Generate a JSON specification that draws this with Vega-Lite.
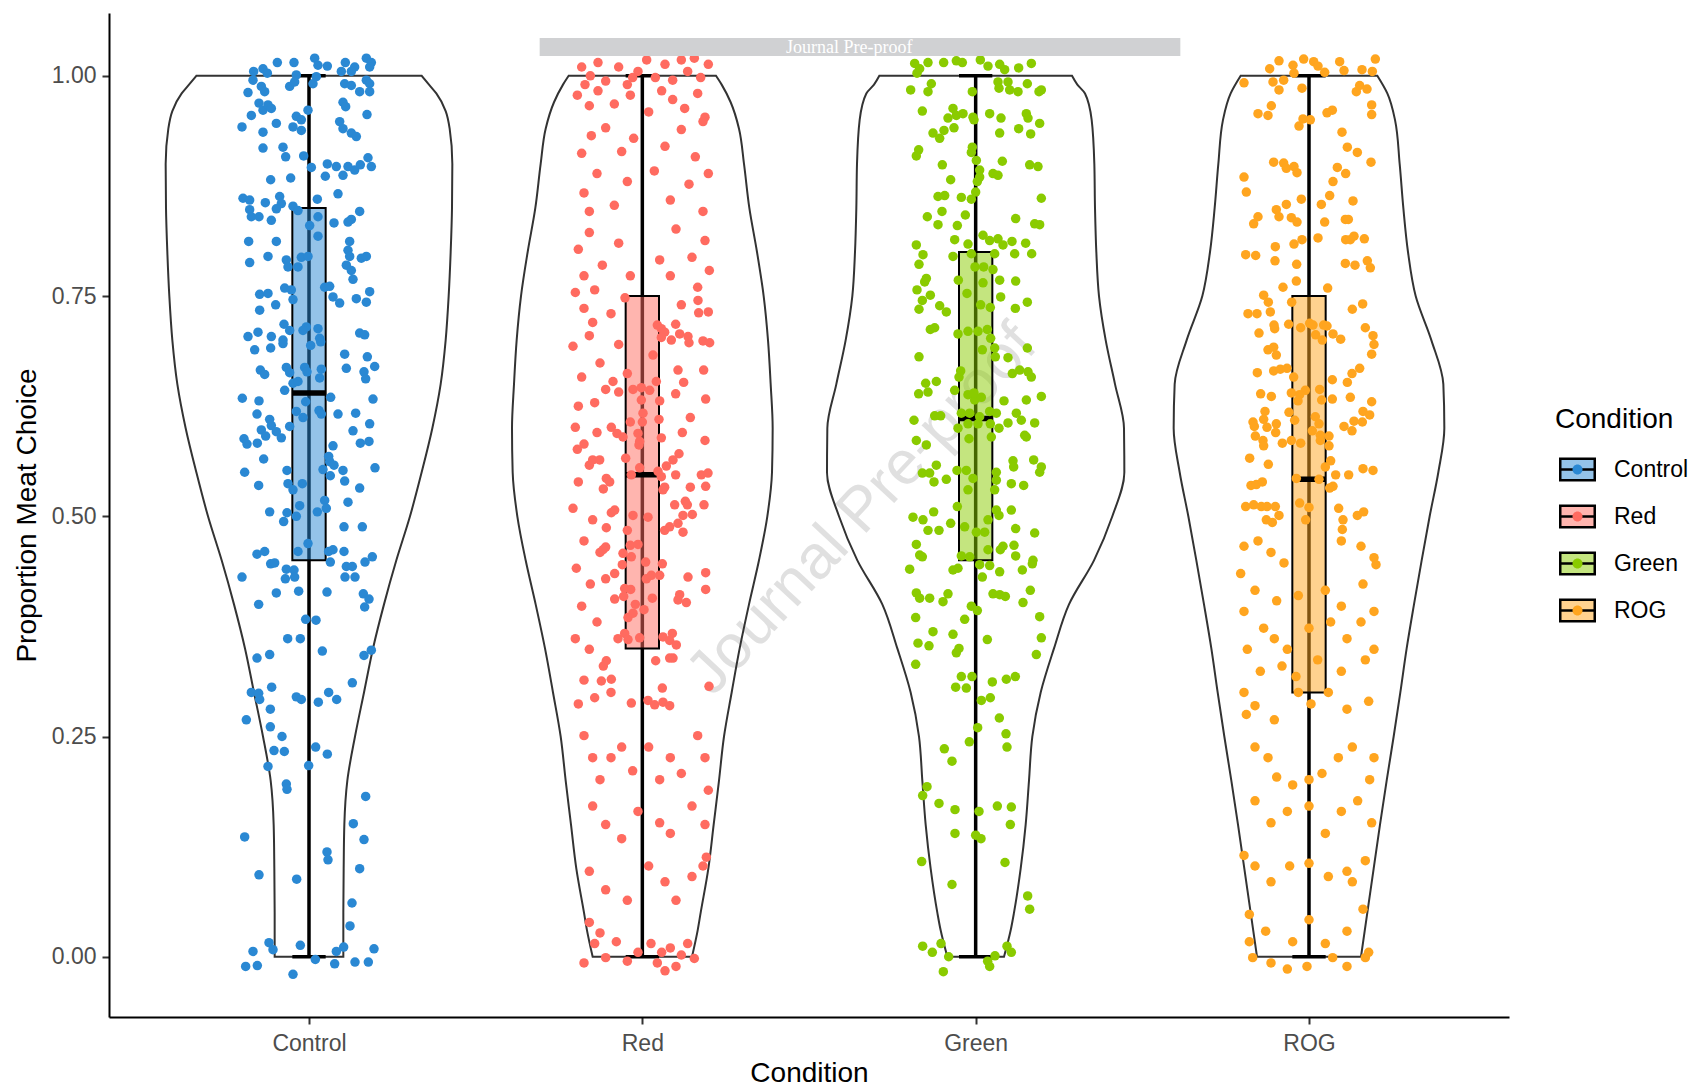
{
"$schema":"https://vega.github.io/schema/vega-lite/v6.json",
"width":1400,"height":1004,
"autosize":{"type":"none"},
"padding":{"left":109,"top":13,"right":188,"bottom":72},
"background":"white",
"config":{"view":{"stroke":null},"font":"Liberation Sans"},
"datasets":{
"stamp":[{"label":"Journal Pre-proof","x":2.659,"y":0.5076}],
"banner":[{"label":"Journal Pre-proof","x1":1.692,"x2":3.614,"y1":1.0225,"y2":1.0429,"xm":2.6205,"ym":1.032}],
"box":[
{"cond":"Control","lower":0,"q1":0.45,"median":0.64,"q3":0.85,"upper":1},
{"cond":"Red","lower":0,"q1":0.35,"median":0.547,"q3":0.75,"upper":1},
{"cond":"Green","lower":0,"q1":0.45,"median":0.611,"q3":0.80,"upper":1},
{"cond":"ROG","lower":0,"q1":0.30,"median":0.542,"q3":0.75,"upper":1}
],
"violin":[
{"cond":"Control","y":0,"w":0.103},{"cond":"Control","y":0.05,"w":0.103},{"cond":"Control","y":0.1,"w":0.104},{"cond":"Control","y":0.15,"w":0.106},{"cond":"Control","y":0.2,"w":0.115},{"cond":"Control","y":0.25,"w":0.138},{"cond":"Control","y":0.3,"w":0.165},{"cond":"Control","y":0.35,"w":0.192},{"cond":"Control","y":0.4,"w":0.225},{"cond":"Control","y":0.45,"w":0.262},{"cond":"Control","y":0.5,"w":0.303},{"cond":"Control","y":0.55,"w":0.338},{"cond":"Control","y":0.6,"w":0.370},{"cond":"Control","y":0.65,"w":0.395},{"cond":"Control","y":0.7,"w":0.410},{"cond":"Control","y":0.75,"w":0.419},{"cond":"Control","y":0.8,"w":0.425},{"cond":"Control","y":0.85,"w":0.429},{"cond":"Control","y":0.9,"w":0.430},{"cond":"Control","y":0.94,"w":0.422},{"cond":"Control","y":0.96,"w":0.410},{"cond":"Control","y":0.98,"w":0.382},{"cond":"Control","y":0.99,"w":0.360},{"cond":"Control","y":1,"w":0.338},
{"cond":"Red","y":0,"w":0.149},{"cond":"Red","y":0.03,"w":0.166},{"cond":"Red","y":0.05,"w":0.175},{"cond":"Red","y":0.1,"w":0.198},{"cond":"Red","y":0.15,"w":0.214},{"cond":"Red","y":0.2,"w":0.230},{"cond":"Red","y":0.25,"w":0.245},{"cond":"Red","y":0.3,"w":0.268},{"cond":"Red","y":0.35,"w":0.292},{"cond":"Red","y":0.4,"w":0.320},{"cond":"Red","y":0.45,"w":0.350},{"cond":"Red","y":0.5,"w":0.375},{"cond":"Red","y":0.55,"w":0.389},{"cond":"Red","y":0.6,"w":0.391},{"cond":"Red","y":0.65,"w":0.385},{"cond":"Red","y":0.7,"w":0.377},{"cond":"Red","y":0.75,"w":0.364},{"cond":"Red","y":0.8,"w":0.344},{"cond":"Red","y":0.85,"w":0.321},{"cond":"Red","y":0.9,"w":0.305},{"cond":"Red","y":0.94,"w":0.290},{"cond":"Red","y":0.97,"w":0.265},{"cond":"Red","y":0.99,"w":0.238},{"cond":"Red","y":1,"w":0.221},
{"cond":"Green","y":0,"w":0.085},{"cond":"Green","y":0.03,"w":0.105},{"cond":"Green","y":0.05,"w":0.115},{"cond":"Green","y":0.1,"w":0.135},{"cond":"Green","y":0.15,"w":0.150},{"cond":"Green","y":0.2,"w":0.160},{"cond":"Green","y":0.25,"w":0.170},{"cond":"Green","y":0.3,"w":0.195},{"cond":"Green","y":0.35,"w":0.235},{"cond":"Green","y":0.4,"w":0.280},{"cond":"Green","y":0.45,"w":0.355},{"cond":"Green","y":0.5,"w":0.410},{"cond":"Green","y":0.55,"w":0.446},{"cond":"Green","y":0.6,"w":0.445},{"cond":"Green","y":0.65,"w":0.418},{"cond":"Green","y":0.7,"w":0.390},{"cond":"Green","y":0.75,"w":0.370},{"cond":"Green","y":0.8,"w":0.362},{"cond":"Green","y":0.85,"w":0.358},{"cond":"Green","y":0.9,"w":0.356},{"cond":"Green","y":0.95,"w":0.348},{"cond":"Green","y":0.98,"w":0.328},{"cond":"Green","y":0.99,"w":0.305},{"cond":"Green","y":1,"w":0.289},
{"cond":"ROG","y":0,"w":0.156},{"cond":"ROG","y":0.05,"w":0.175},{"cond":"ROG","y":0.1,"w":0.194},{"cond":"ROG","y":0.15,"w":0.213},{"cond":"ROG","y":0.2,"w":0.233},{"cond":"ROG","y":0.25,"w":0.254},{"cond":"ROG","y":0.3,"w":0.274},{"cond":"ROG","y":0.35,"w":0.293},{"cond":"ROG","y":0.4,"w":0.315},{"cond":"ROG","y":0.45,"w":0.338},{"cond":"ROG","y":0.5,"w":0.362},{"cond":"ROG","y":0.55,"w":0.388},{"cond":"ROG","y":0.6,"w":0.406},{"cond":"ROG","y":0.65,"w":0.403},{"cond":"ROG","y":0.7,"w":0.367},{"cond":"ROG","y":0.75,"w":0.320},{"cond":"ROG","y":0.8,"w":0.297},{"cond":"ROG","y":0.85,"w":0.283},{"cond":"ROG","y":0.9,"w":0.272},{"cond":"ROG","y":0.95,"w":0.258},{"cond":"ROG","y":0.98,"w":0.235},{"cond":"ROG","y":1,"w":0.205}
],
"points":[
{"cond":"Control","dx":-0.095,"y":1.015},{"cond":"Control","dx":-0.045,"y":1.015},{"cond":"Control","dx":0.017,"y":1.020},{"cond":"Control","dx":0.027,"y":1.012},{"cond":"Control","dx":0.055,"y":1.011},{"cond":"Control","dx":0.109,"y":1.015},{"cond":"Control","dx":0.137,"y":1.010},{"cond":"Control","dx":0.172,"y":1.020},{"cond":"Control","dx":0.187,"y":1.015},{"cond":"Control","dx":0.182,"y":1.010},{"cond":"Control","dx":-0.166,"y":1.005},{"cond":"Control","dx":-0.138,"y":1.008},{"cond":"Control","dx":-0.125,"y":1.003},{"cond":"Control","dx":-0.038,"y":1.001},{"cond":"Control","dx":0.022,"y":0.999},{"cond":"Control","dx":0.097,"y":1.005},{"cond":"Control","dx":0.127,"y":1.005},{"cond":"Control","dx":-0.168,"y":0.995},{"cond":"Control","dx":-0.143,"y":0.988},{"cond":"Control","dx":-0.133,"y":0.982},{"cond":"Control","dx":-0.058,"y":0.988},{"cond":"Control","dx":-0.043,"y":0.993},{"cond":"Control","dx":0.012,"y":0.991},{"cond":"Control","dx":0.107,"y":0.991},{"cond":"Control","dx":0.127,"y":0.989},{"cond":"Control","dx":0.172,"y":0.995},{"cond":"Control","dx":0.182,"y":0.991},{"cond":"Control","dx":0.152,"y":0.982},{"cond":"Control","dx":0.182,"y":0.982},{"cond":"Control","dx":-0.183,"y":0.981},{"cond":"Control","dx":-0.150,"y":0.969},{"cond":"Control","dx":-0.138,"y":0.961},{"cond":"Control","dx":-0.123,"y":0.967},{"cond":"Control","dx":-0.113,"y":0.963},{"cond":"Control","dx":-0.173,"y":0.955},{"cond":"Control","dx":-0.038,"y":0.954},{"cond":"Control","dx":-0.003,"y":0.961},{"cond":"Control","dx":-0.023,"y":0.950},{"cond":"Control","dx":-0.048,"y":0.942},{"cond":"Control","dx":-0.023,"y":0.938},{"cond":"Control","dx":0.102,"y":0.970},{"cond":"Control","dx":0.110,"y":0.965},{"cond":"Control","dx":0.174,"y":0.956},{"cond":"Control","dx":0.092,"y":0.948},{"cond":"Control","dx":0.102,"y":0.940},{"cond":"Control","dx":0.127,"y":0.935},{"cond":"Control","dx":0.142,"y":0.931},{"cond":"Control","dx":-0.201,"y":0.942},{"cond":"Control","dx":-0.138,"y":0.936},{"cond":"Control","dx":-0.098,"y":0.946},{"cond":"Control","dx":-0.138,"y":0.918},{"cond":"Control","dx":-0.078,"y":0.919},{"cond":"Control","dx":-0.070,"y":0.908},{"cond":"Control","dx":-0.016,"y":0.909},{"cond":"Control","dx":0.007,"y":0.896},{"cond":"Control","dx":0.055,"y":0.900},{"cond":"Control","dx":0.082,"y":0.897},{"cond":"Control","dx":0.117,"y":0.897},{"cond":"Control","dx":0.137,"y":0.893},{"cond":"Control","dx":0.154,"y":0.899},{"cond":"Control","dx":0.177,"y":0.907},{"cond":"Control","dx":0.187,"y":0.897},{"cond":"Control","dx":0.049,"y":0.886},{"cond":"Control","dx":0.102,"y":0.887},{"cond":"Control","dx":-0.115,"y":0.882},{"cond":"Control","dx":-0.055,"y":0.884},{"cond":"Control","dx":-0.198,"y":0.861},{"cond":"Control","dx":-0.178,"y":0.859},{"cond":"Control","dx":-0.131,"y":0.856},{"cond":"Control","dx":-0.088,"y":0.863},{"cond":"Control","dx":-0.083,"y":0.855},{"cond":"Control","dx":-0.098,"y":0.849},{"cond":"Control","dx":-0.048,"y":0.852},{"cond":"Control","dx":-0.033,"y":0.847},{"cond":"Control","dx":0.025,"y":0.860},{"cond":"Control","dx":0.087,"y":0.866},{"cond":"Control","dx":-0.178,"y":0.848},{"cond":"Control","dx":-0.173,"y":0.840},{"cond":"Control","dx":-0.150,"y":0.840},{"cond":"Control","dx":-0.113,"y":0.836},{"cond":"Control","dx":0.002,"y":0.830},{"cond":"Control","dx":0.027,"y":0.840},{"cond":"Control","dx":0.027,"y":0.818},{"cond":"Control","dx":0.075,"y":0.833},{"cond":"Control","dx":0.117,"y":0.834},{"cond":"Control","dx":0.127,"y":0.837},{"cond":"Control","dx":0.152,"y":0.846},{"cond":"Control","dx":-0.181,"y":0.812},{"cond":"Control","dx":-0.098,"y":0.812},{"cond":"Control","dx":-0.178,"y":0.788},{"cond":"Control","dx":-0.123,"y":0.795},{"cond":"Control","dx":-0.068,"y":0.791},{"cond":"Control","dx":-0.063,"y":0.783},{"cond":"Control","dx":-0.033,"y":0.783},{"cond":"Control","dx":-0.023,"y":0.794},{"cond":"Control","dx":-0.003,"y":0.795},{"cond":"Control","dx":0.122,"y":0.812},{"cond":"Control","dx":0.117,"y":0.802},{"cond":"Control","dx":0.122,"y":0.795},{"cond":"Control","dx":0.112,"y":0.785},{"cond":"Control","dx":0.127,"y":0.779},{"cond":"Control","dx":0.157,"y":0.793},{"cond":"Control","dx":0.172,"y":0.795},{"cond":"Control","dx":0.132,"y":0.769},{"cond":"Control","dx":-0.148,"y":0.752},{"cond":"Control","dx":-0.123,"y":0.753},{"cond":"Control","dx":-0.073,"y":0.759},{"cond":"Control","dx":-0.053,"y":0.757},{"cond":"Control","dx":-0.048,"y":0.746},{"cond":"Control","dx":0.047,"y":0.760},{"cond":"Control","dx":0.062,"y":0.761},{"cond":"Control","dx":0.072,"y":0.749},{"cond":"Control","dx":0.092,"y":0.742},{"cond":"Control","dx":0.142,"y":0.747},{"cond":"Control","dx":0.172,"y":0.743},{"cond":"Control","dx":0.182,"y":0.755},{"cond":"Control","dx":-0.148,"y":0.734},{"cond":"Control","dx":-0.100,"y":0.740},{"cond":"Control","dx":-0.075,"y":0.718},{"cond":"Control","dx":-0.058,"y":0.711},{"cond":"Control","dx":-0.008,"y":0.715},{"cond":"Control","dx":0.027,"y":0.713},{"cond":"Control","dx":-0.018,"y":0.711},{"cond":"Control","dx":0.152,"y":0.708},{"cond":"Control","dx":0.167,"y":0.706},{"cond":"Control","dx":-0.183,"y":0.704},{"cond":"Control","dx":-0.153,"y":0.709},{"cond":"Control","dx":-0.113,"y":0.704},{"cond":"Control","dx":-0.078,"y":0.700},{"cond":"Control","dx":0.032,"y":0.702},
{"cond":"Control","dx":-0.163,"y":0.689},{"cond":"Control","dx":-0.115,"y":0.691},{"cond":"Control","dx":-0.078,"y":0.696},{"cond":"Control","dx":0.005,"y":0.694},{"cond":"Control","dx":0.035,"y":0.698},{"cond":"Control","dx":0.107,"y":0.684},{"cond":"Control","dx":0.175,"y":0.681},{"cond":"Control","dx":-0.146,"y":0.666},{"cond":"Control","dx":-0.133,"y":0.661},{"cond":"Control","dx":-0.068,"y":0.669},{"cond":"Control","dx":-0.058,"y":0.663},{"cond":"Control","dx":-0.013,"y":0.669},{"cond":"Control","dx":-0.006,"y":0.664},{"cond":"Control","dx":0.037,"y":0.667},{"cond":"Control","dx":0.032,"y":0.657},{"cond":"Control","dx":0.112,"y":0.668},{"cond":"Control","dx":0.165,"y":0.664},{"cond":"Control","dx":0.170,"y":0.656},{"cond":"Control","dx":0.197,"y":0.670},{"cond":"Control","dx":-0.073,"y":0.643},{"cond":"Control","dx":-0.048,"y":0.651},{"cond":"Control","dx":-0.033,"y":0.653},{"cond":"Control","dx":-0.200,"y":0.634},{"cond":"Control","dx":-0.150,"y":0.631},{"cond":"Control","dx":-0.010,"y":0.630},{"cond":"Control","dx":0.065,"y":0.635},{"cond":"Control","dx":0.192,"y":0.633},{"cond":"Control","dx":-0.156,"y":0.616},{"cond":"Control","dx":-0.118,"y":0.610},{"cond":"Control","dx":-0.113,"y":0.603},{"cond":"Control","dx":-0.038,"y":0.619},{"cond":"Control","dx":-0.018,"y":0.612},{"cond":"Control","dx":0.030,"y":0.620},{"cond":"Control","dx":0.037,"y":0.616},{"cond":"Control","dx":0.087,"y":0.616},{"cond":"Control","dx":0.140,"y":0.617},{"cond":"Control","dx":0.182,"y":0.605},{"cond":"Control","dx":-0.143,"y":0.598},{"cond":"Control","dx":-0.130,"y":0.591},{"cond":"Control","dx":-0.098,"y":0.596},{"cond":"Control","dx":-0.083,"y":0.589},{"cond":"Control","dx":-0.058,"y":0.602},{"cond":"Control","dx":-0.195,"y":0.588},{"cond":"Control","dx":-0.186,"y":0.582},{"cond":"Control","dx":-0.155,"y":0.583},{"cond":"Control","dx":0.132,"y":0.597},{"cond":"Control","dx":0.154,"y":0.583},{"cond":"Control","dx":0.180,"y":0.585},{"cond":"Control","dx":0.072,"y":0.580},{"cond":"Control","dx":-0.136,"y":0.565},{"cond":"Control","dx":0.059,"y":0.568},{"cond":"Control","dx":0.062,"y":0.562},{"cond":"Control","dx":0.075,"y":0.558},{"cond":"Control","dx":0.042,"y":0.553},{"cond":"Control","dx":0.102,"y":0.552},{"cond":"Control","dx":0.107,"y":0.540},{"cond":"Control","dx":0.064,"y":0.546},{"cond":"Control","dx":0.198,"y":0.555},{"cond":"Control","dx":-0.193,"y":0.550},{"cond":"Control","dx":-0.066,"y":0.552},{"cond":"Control","dx":-0.063,"y":0.537},{"cond":"Control","dx":-0.048,"y":0.530},{"cond":"Control","dx":-0.020,"y":0.537},{"cond":"Control","dx":-0.151,"y":0.535},{"cond":"Control","dx":0.152,"y":0.532},{"cond":"Control","dx":-0.028,"y":0.512},{"cond":"Control","dx":0.047,"y":0.518},{"cond":"Control","dx":0.052,"y":0.509},{"cond":"Control","dx":0.025,"y":0.505},{"cond":"Control","dx":0.117,"y":0.516},{"cond":"Control","dx":-0.118,"y":0.505},{"cond":"Control","dx":-0.066,"y":0.504},{"cond":"Control","dx":-0.076,"y":0.494},{"cond":"Control","dx":-0.038,"y":0.500},{"cond":"Control","dx":0.105,"y":0.488},{"cond":"Control","dx":0.160,"y":0.488},{"cond":"Control","dx":-0.003,"y":0.469},{"cond":"Control","dx":-0.033,"y":0.460},{"cond":"Control","dx":-0.156,"y":0.457},{"cond":"Control","dx":-0.133,"y":0.460},{"cond":"Control","dx":-0.115,"y":0.446},{"cond":"Control","dx":-0.103,"y":0.447},{"cond":"Control","dx":0.059,"y":0.460},{"cond":"Control","dx":0.072,"y":0.462},{"cond":"Control","dx":0.105,"y":0.460},{"cond":"Control","dx":0.064,"y":0.448},{"cond":"Control","dx":0.190,"y":0.454},{"cond":"Control","dx":0.168,"y":0.448},{"cond":"Control","dx":-0.201,"y":0.431},{"cond":"Control","dx":-0.068,"y":0.440},{"cond":"Control","dx":-0.045,"y":0.439},{"cond":"Control","dx":-0.071,"y":0.429},{"cond":"Control","dx":-0.043,"y":0.431},{"cond":"Control","dx":0.112,"y":0.443},{"cond":"Control","dx":0.130,"y":0.443},{"cond":"Control","dx":0.108,"y":0.431},{"cond":"Control","dx":0.138,"y":0.431},{"cond":"Control","dx":-0.098,"y":0.413},{"cond":"Control","dx":-0.031,"y":0.415},{"cond":"Control","dx":0.054,"y":0.414},{"cond":"Control","dx":0.163,"y":0.412},{"cond":"Control","dx":0.180,"y":0.406},{"cond":"Control","dx":0.167,"y":0.397},{"cond":"Control","dx":-0.151,"y":0.400},{"cond":"Control","dx":-0.010,"y":0.383},{"cond":"Control","dx":0.021,"y":0.382},{"cond":"Control","dx":-0.064,"y":0.361},{"cond":"Control","dx":-0.026,"y":0.361},
{"cond":"Control","dx":0.040,"y":0.347},{"cond":"Control","dx":0.165,"y":0.342},{"cond":"Control","dx":0.187,"y":0.348},{"cond":"Control","dx":-0.156,"y":0.339},{"cond":"Control","dx":-0.118,"y":0.343},{"cond":"Control","dx":-0.112,"y":0.306},{"cond":"Control","dx":0.130,"y":0.311},{"cond":"Control","dx":-0.173,"y":0.300},{"cond":"Control","dx":-0.151,"y":0.299},{"cond":"Control","dx":-0.148,"y":0.292},{"cond":"Control","dx":-0.038,"y":0.295},{"cond":"Control","dx":-0.023,"y":0.292},{"cond":"Control","dx":0.028,"y":0.289},{"cond":"Control","dx":0.059,"y":0.300},{"cond":"Control","dx":0.083,"y":0.292},{"cond":"Control","dx":-0.116,"y":0.281},{"cond":"Control","dx":-0.188,"y":0.269},{"cond":"Control","dx":-0.116,"y":0.261},{"cond":"Control","dx":-0.081,"y":0.250},{"cond":"Control","dx":-0.105,"y":0.234},{"cond":"Control","dx":-0.074,"y":0.233},{"cond":"Control","dx":0.020,"y":0.238},{"cond":"Control","dx":0.055,"y":0.230},{"cond":"Control","dx":-0.123,"y":0.216},{"cond":"Control","dx":-0.001,"y":0.217},{"cond":"Control","dx":-0.068,"y":0.196},{"cond":"Control","dx":-0.066,"y":0.190},{"cond":"Control","dx":0.170,"y":0.182},{"cond":"Control","dx":0.133,"y":0.151},{"cond":"Control","dx":-0.193,"y":0.136},{"cond":"Control","dx":0.165,"y":0.133},{"cond":"Control","dx":0.054,"y":0.119},{"cond":"Control","dx":0.057,"y":0.110},{"cond":"Control","dx":0.152,"y":0.100},{"cond":"Control","dx":-0.150,"y":0.093},{"cond":"Control","dx":-0.037,"y":0.088},{"cond":"Control","dx":0.129,"y":0.061},{"cond":"Control","dx":0.123,"y":0.035},{"cond":"Control","dx":-0.120,"y":0.016},{"cond":"Control","dx":-0.108,"y":0.008},{"cond":"Control","dx":-0.026,"y":0.013},{"cond":"Control","dx":-0.168,"y":0.006},{"cond":"Control","dx":-0.190,"y":-0.011},{"cond":"Control","dx":-0.155,"y":-0.010},{"cond":"Control","dx":-0.048,"y":-0.020},{"cond":"Control","dx":0.019,"y":-0.003},{"cond":"Control","dx":0.077,"y":-0.008},{"cond":"Control","dx":0.082,"y":0.006},{"cond":"Control","dx":0.104,"y":0.011},{"cond":"Control","dx":0.138,"y":-0.006},{"cond":"Control","dx":0.178,"y":-0.006},{"cond":"Control","dx":0.195,"y":0.009},
{"cond":"Red","dx":-0.182,"y":1.010},{"cond":"Red","dx":-0.156,"y":1.000},{"cond":"Red","dx":-0.133,"y":1.015},{"cond":"Red","dx":-0.110,"y":0.994},{"cond":"Red","dx":-0.071,"y":1.010},{"cond":"Red","dx":-0.045,"y":0.990},{"cond":"Red","dx":-0.013,"y":1.005},{"cond":"Red","dx":0.013,"y":1.018},{"cond":"Red","dx":0.039,"y":0.998},{"cond":"Red","dx":0.068,"y":1.013},{"cond":"Red","dx":0.091,"y":0.995},{"cond":"Red","dx":0.117,"y":1.018},{"cond":"Red","dx":0.136,"y":1.005},{"cond":"Red","dx":0.156,"y":1.020},{"cond":"Red","dx":0.175,"y":0.998},{"cond":"Red","dx":0.198,"y":1.013},{"cond":"Red","dx":-0.172,"y":0.990},{"cond":"Red","dx":-0.029,"y":0.998},{"cond":"Red","dx":-0.195,"y":0.978},{"cond":"Red","dx":-0.159,"y":0.966},{"cond":"Red","dx":-0.133,"y":0.983},{"cond":"Red","dx":-0.084,"y":0.968},{"cond":"Red","dx":-0.036,"y":0.978},{"cond":"Red","dx":0.019,"y":0.959},{"cond":"Red","dx":0.058,"y":0.983},{"cond":"Red","dx":0.091,"y":0.973},{"cond":"Red","dx":0.127,"y":0.963},{"cond":"Red","dx":0.166,"y":0.980},{"cond":"Red","dx":0.188,"y":0.953},{"cond":"Red","dx":-0.153,"y":0.932},{"cond":"Red","dx":-0.110,"y":0.941},{"cond":"Red","dx":-0.062,"y":0.914},{"cond":"Red","dx":-0.026,"y":0.929},{"cond":"Red","dx":0.068,"y":0.920},{"cond":"Red","dx":0.117,"y":0.939},{"cond":"Red","dx":0.182,"y":0.948},{"cond":"Red","dx":0.159,"y":0.908},{"cond":"Red","dx":-0.182,"y":0.912},{"cond":"Red","dx":-0.175,"y":0.867},{"cond":"Red","dx":-0.136,"y":0.889},{"cond":"Red","dx":-0.084,"y":0.853},{"cond":"Red","dx":-0.045,"y":0.880},{"cond":"Red","dx":0.036,"y":0.892},{"cond":"Red","dx":0.084,"y":0.859},{"cond":"Red","dx":0.140,"y":0.877},{"cond":"Red","dx":0.182,"y":0.846},{"cond":"Red","dx":0.198,"y":0.889},{"cond":"Red","dx":-0.159,"y":0.846},{"cond":"Red","dx":-0.192,"y":0.803},{"cond":"Red","dx":-0.159,"y":0.822},{"cond":"Red","dx":-0.120,"y":0.785},{"cond":"Red","dx":-0.071,"y":0.810},{"cond":"Red","dx":-0.036,"y":0.773},{"cond":"Red","dx":0.052,"y":0.791},{"cond":"Red","dx":0.101,"y":0.826},{"cond":"Red","dx":0.149,"y":0.794},{"cond":"Red","dx":0.188,"y":0.813},{"cond":"Red","dx":0.201,"y":0.779},{"cond":"Red","dx":-0.175,"y":0.773},{"cond":"Red","dx":0.084,"y":0.773},{"cond":"Red","dx":-0.201,"y":0.754},{"cond":"Red","dx":-0.175,"y":0.736},{"cond":"Red","dx":-0.143,"y":0.757},{"cond":"Red","dx":-0.094,"y":0.730},{"cond":"Red","dx":-0.052,"y":0.748},{"cond":"Red","dx":0.045,"y":0.717},{"cond":"Red","dx":0.117,"y":0.740},{"cond":"Red","dx":0.166,"y":0.760},{"cond":"Red","dx":0.198,"y":0.732},{"cond":"Red","dx":-0.149,"y":0.720},{"cond":"Red","dx":-0.208,"y":0.693},{"cond":"Red","dx":-0.182,"y":0.658},{"cond":"Red","dx":-0.159,"y":0.705},{"cond":"Red","dx":-0.127,"y":0.674},{"cond":"Red","dx":-0.110,"y":0.644},{"cond":"Red","dx":-0.071,"y":0.695},{"cond":"Red","dx":-0.045,"y":0.662},{"cond":"Red","dx":-0.192,"y":0.625},{"cond":"Red","dx":-0.143,"y":0.629},{"cond":"Red","dx":-0.201,"y":0.601},{"cond":"Red","dx":-0.175,"y":0.582},{"cond":"Red","dx":-0.136,"y":0.595},{"cond":"Red","dx":-0.159,"y":0.558},{"cond":"Red","dx":-0.192,"y":0.539},{"cond":"Red","dx":-0.117,"y":0.531},{"cond":"Red","dx":-0.208,"y":0.509},{"cond":"Red","dx":-0.149,"y":0.496},{"cond":"Red","dx":-0.175,"y":0.472},{"cond":"Red","dx":-0.127,"y":0.459},{"cond":"Red","dx":-0.198,"y":0.441},{"cond":"Red","dx":-0.156,"y":0.423},{"cond":"Red","dx":-0.110,"y":0.429},{"cond":"Red","dx":-0.182,"y":0.398},{"cond":"Red","dx":-0.136,"y":0.380},{"cond":"Red","dx":-0.201,"y":0.361},{"cond":"Red","dx":-0.159,"y":0.349},{"cond":"Red","dx":-0.117,"y":0.330},{"cond":"Red","dx":-0.175,"y":0.314},{"cond":"Red","dx":-0.143,"y":0.294},{"cond":"Red","dx":-0.192,"y":0.287},{"cond":"Red","dx":-0.094,"y":0.300},{"cond":"Red","dx":-0.149,"y":0.564},{"cond":"Red","dx":-0.195,"y":0.576},
{"cond":"Red","dx":0.167,"y":0.745},{"cond":"Red","dx":0.169,"y":0.731},{"cond":"Red","dx":0.057,"y":0.713},{"cond":"Red","dx":0.067,"y":0.709},{"cond":"Red","dx":0.100,"y":0.718},{"cond":"Red","dx":0.087,"y":0.700},{"cond":"Red","dx":0.057,"y":0.703},{"cond":"Red","dx":0.112,"y":0.707},{"cond":"Red","dx":0.137,"y":0.704},{"cond":"Red","dx":0.140,"y":0.697},{"cond":"Red","dx":0.182,"y":0.699},{"cond":"Red","dx":0.202,"y":0.697},{"cond":"Red","dx":0.032,"y":0.683},{"cond":"Red","dx":0.107,"y":0.666},{"cond":"Red","dx":0.184,"y":0.666},
{"cond":"Red","dx":-0.088,"y":0.653},{"cond":"Red","dx":-0.071,"y":0.641},{"cond":"Red","dx":-0.028,"y":0.644},{"cond":"Red","dx":-0.003,"y":0.646},{"cond":"Red","dx":0.022,"y":0.643},{"cond":"Red","dx":0.042,"y":0.653},{"cond":"Red","dx":0.124,"y":0.652},{"cond":"Red","dx":0.100,"y":0.639},{"cond":"Red","dx":0.190,"y":0.633},{"cond":"Red","dx":-0.003,"y":0.632},{"cond":"Red","dx":0.052,"y":0.631},{"cond":"Red","dx":0.002,"y":0.617},{"cond":"Red","dx":-0.036,"y":0.607},{"cond":"Red","dx":0.000,"y":0.607},{"cond":"Red","dx":0.050,"y":0.610},{"cond":"Red","dx":0.144,"y":0.612},{"cond":"Red","dx":-0.093,"y":0.601},{"cond":"Red","dx":-0.076,"y":0.594},{"cond":"Red","dx":-0.058,"y":0.590},{"cond":"Red","dx":-0.013,"y":0.594},{"cond":"Red","dx":-0.008,"y":0.585},{"cond":"Red","dx":-0.010,"y":0.581},{"cond":"Red","dx":0.057,"y":0.589},{"cond":"Red","dx":0.120,"y":0.595},{"cond":"Red","dx":0.188,"y":0.586},{"cond":"Red","dx":-0.128,"y":0.564},{"cond":"Red","dx":-0.050,"y":0.566},{"cond":"Red","dx":0.110,"y":0.571},{"cond":"Red","dx":0.092,"y":0.564},{"cond":"Red","dx":0.072,"y":0.557},{"cond":"Red","dx":-0.033,"y":0.547},{"cond":"Red","dx":-0.008,"y":0.555},{"cond":"Red","dx":0.047,"y":0.551},{"cond":"Red","dx":0.057,"y":0.545},{"cond":"Red","dx":0.100,"y":0.547},{"cond":"Red","dx":0.177,"y":0.547},{"cond":"Red","dx":0.197,"y":0.549},{"cond":"Red","dx":-0.108,"y":0.543},{"cond":"Red","dx":-0.098,"y":0.539},{"cond":"Red","dx":0.067,"y":0.533},{"cond":"Red","dx":0.062,"y":0.530},{"cond":"Red","dx":0.144,"y":0.533},{"cond":"Red","dx":0.190,"y":0.534},{"cond":"Red","dx":-0.093,"y":0.504},{"cond":"Red","dx":-0.083,"y":0.507},{"cond":"Red","dx":-0.028,"y":0.501},{"cond":"Red","dx":0.017,"y":0.499},{"cond":"Red","dx":0.097,"y":0.513},{"cond":"Red","dx":0.129,"y":0.517},{"cond":"Red","dx":0.135,"y":0.513},{"cond":"Red","dx":0.185,"y":0.513},{"cond":"Red","dx":-0.108,"y":0.487},{"cond":"Red","dx":-0.045,"y":0.484},{"cond":"Red","dx":0.067,"y":0.484},{"cond":"Red","dx":0.082,"y":0.488},{"cond":"Red","dx":0.107,"y":0.492},{"cond":"Red","dx":0.122,"y":0.501},{"cond":"Red","dx":0.150,"y":0.502},{"cond":"Red","dx":0.122,"y":0.482},{"cond":"Red","dx":-0.118,"y":0.462},{"cond":"Red","dx":-0.110,"y":0.465},{"cond":"Red","dx":-0.058,"y":0.458},{"cond":"Red","dx":-0.033,"y":0.454},{"cond":"Red","dx":-0.036,"y":0.467},{"cond":"Red","dx":-0.013,"y":0.468},{"cond":"Red","dx":0.010,"y":0.448},{"cond":"Red","dx":0.060,"y":0.446},{"cond":"Red","dx":-0.083,"y":0.435},{"cond":"Red","dx":-0.060,"y":0.445},{"cond":"Red","dx":0.012,"y":0.429},{"cond":"Red","dx":0.027,"y":0.433},{"cond":"Red","dx":0.052,"y":0.433},{"cond":"Red","dx":0.137,"y":0.431},{"cond":"Red","dx":0.190,"y":0.436},{"cond":"Red","dx":0.190,"y":0.417},{"cond":"Red","dx":-0.053,"y":0.418},{"cond":"Red","dx":-0.035,"y":0.417},{"cond":"Red","dx":-0.083,"y":0.406},{"cond":"Red","dx":-0.056,"y":0.409},{"cond":"Red","dx":-0.021,"y":0.400},{"cond":"Red","dx":0.005,"y":0.394},{"cond":"Red","dx":0.030,"y":0.407},{"cond":"Red","dx":0.112,"y":0.411},{"cond":"Red","dx":0.107,"y":0.405},{"cond":"Red","dx":0.132,"y":0.402},{"cond":"Red","dx":-0.043,"y":0.385},{"cond":"Red","dx":-0.028,"y":0.390},{"cond":"Red","dx":-0.073,"y":0.361},{"cond":"Red","dx":-0.053,"y":0.367},{"cond":"Red","dx":-0.043,"y":0.360},{"cond":"Red","dx":-0.008,"y":0.362},{"cond":"Red","dx":0.062,"y":0.363},{"cond":"Red","dx":0.090,"y":0.367},{"cond":"Red","dx":0.082,"y":0.359},{"cond":"Red","dx":0.102,"y":0.354},{"cond":"Red","dx":-0.108,"y":0.336},{"cond":"Red","dx":0.040,"y":0.336},{"cond":"Red","dx":0.082,"y":0.339},{"cond":"Red","dx":0.092,"y":0.339},{"cond":"Red","dx":-0.123,"y":0.313},{"cond":"Red","dx":-0.093,"y":0.315},{"cond":"Red","dx":0.060,"y":0.305},{"cond":"Red","dx":0.200,"y":0.307},{"cond":"Red","dx":-0.033,"y":0.288},{"cond":"Red","dx":0.017,"y":0.291},{"cond":"Red","dx":0.037,"y":0.286},{"cond":"Red","dx":0.062,"y":0.289},{"cond":"Red","dx":0.082,"y":0.285},
{"cond":"Red","dx":-0.175,"y":0.251},{"cond":"Red","dx":-0.149,"y":0.226},{"cond":"Red","dx":-0.127,"y":0.201},{"cond":"Red","dx":-0.094,"y":0.226},{"cond":"Red","dx":-0.062,"y":0.238},{"cond":"Red","dx":-0.029,"y":0.211},{"cond":"Red","dx":0.019,"y":0.238},{"cond":"Red","dx":0.052,"y":0.201},{"cond":"Red","dx":0.084,"y":0.226},{"cond":"Red","dx":0.117,"y":0.208},{"cond":"Red","dx":0.166,"y":0.251},{"cond":"Red","dx":0.188,"y":0.226},{"cond":"Red","dx":0.198,"y":0.189},{"cond":"Red","dx":-0.149,"y":0.171},{"cond":"Red","dx":-0.110,"y":0.150},{"cond":"Red","dx":-0.062,"y":0.134},{"cond":"Red","dx":-0.013,"y":0.165},{"cond":"Red","dx":0.052,"y":0.152},{"cond":"Red","dx":0.084,"y":0.140},{"cond":"Red","dx":0.149,"y":0.171},{"cond":"Red","dx":0.188,"y":0.150},{"cond":"Red","dx":0.192,"y":0.113},{"cond":"Red","dx":-0.159,"y":0.097},{"cond":"Red","dx":-0.110,"y":0.076},{"cond":"Red","dx":-0.045,"y":0.064},{"cond":"Red","dx":0.019,"y":0.103},{"cond":"Red","dx":0.068,"y":0.085},{"cond":"Red","dx":0.101,"y":0.064},{"cond":"Red","dx":0.149,"y":0.091},{"cond":"Red","dx":0.182,"y":0.103},{"cond":"Red","dx":-0.159,"y":0.039},{"cond":"Red","dx":-0.127,"y":0.027},{"cond":"Red","dx":-0.078,"y":0.017},{"cond":"Red","dx":-0.013,"y":0.005},{"cond":"Red","dx":0.026,"y":0.015},{"cond":"Red","dx":0.058,"y":0.005},{"cond":"Red","dx":0.084,"y":0.010},{"cond":"Red","dx":0.117,"y":0.002},{"cond":"Red","dx":0.136,"y":0.015},{"cond":"Red","dx":-0.175,"y":-0.007},{"cond":"Red","dx":-0.110,"y":-0.001},{"cond":"Red","dx":-0.045,"y":-0.005},{"cond":"Red","dx":0.045,"y":-0.007},{"cond":"Red","dx":0.101,"y":-0.011},{"cond":"Red","dx":0.068,"y":-0.016},{"cond":"Red","dx":0.156,"y":-0.002},{"cond":"Red","dx":-0.143,"y":0.015},
{"cond":"Green","dx":-0.183,"y":1.014},{"cond":"Green","dx":-0.143,"y":1.015},{"cond":"Green","dx":-0.096,"y":1.015},{"cond":"Green","dx":-0.058,"y":1.017},{"cond":"Green","dx":-0.040,"y":1.015},{"cond":"Green","dx":0.014,"y":1.018},{"cond":"Green","dx":0.037,"y":1.011},{"cond":"Green","dx":0.072,"y":1.013},{"cond":"Green","dx":0.087,"y":1.007},{"cond":"Green","dx":0.129,"y":1.009},{"cond":"Green","dx":0.167,"y":1.014},{"cond":"Green","dx":-0.176,"y":1.003},{"cond":"Green","dx":-0.168,"y":1.008},{"cond":"Green","dx":-0.195,"y":0.984},{"cond":"Green","dx":-0.133,"y":0.991},{"cond":"Green","dx":-0.143,"y":0.982},{"cond":"Green","dx":0.067,"y":0.993},{"cond":"Green","dx":0.070,"y":0.986},{"cond":"Green","dx":0.097,"y":0.993},{"cond":"Green","dx":0.102,"y":0.984},{"cond":"Green","dx":0.127,"y":0.982},{"cond":"Green","dx":0.155,"y":0.991},{"cond":"Green","dx":0.190,"y":0.982},{"cond":"Green","dx":0.197,"y":0.984},{"cond":"Green","dx":-0.010,"y":0.982},{"cond":"Green","dx":-0.160,"y":0.960},{"cond":"Green","dx":-0.068,"y":0.963},{"cond":"Green","dx":-0.083,"y":0.952},{"cond":"Green","dx":-0.058,"y":0.955},{"cond":"Green","dx":-0.038,"y":0.957},{"cond":"Green","dx":-0.008,"y":0.953},{"cond":"Green","dx":-0.005,"y":0.950},{"cond":"Green","dx":0.042,"y":0.957},{"cond":"Green","dx":0.076,"y":0.952},{"cond":"Green","dx":0.152,"y":0.957},{"cond":"Green","dx":0.157,"y":0.952},{"cond":"Green","dx":0.192,"y":0.946},{"cond":"Green","dx":0.129,"y":0.940},{"cond":"Green","dx":0.165,"y":0.934},{"cond":"Green","dx":-0.128,"y":0.935},{"cond":"Green","dx":-0.108,"y":0.929},{"cond":"Green","dx":-0.095,"y":0.938},{"cond":"Green","dx":-0.065,"y":0.941},{"cond":"Green","dx":0.072,"y":0.935},{"cond":"Green","dx":-0.171,"y":0.916},{"cond":"Green","dx":-0.178,"y":0.909},{"cond":"Green","dx":-0.010,"y":0.919},{"cond":"Green","dx":-0.013,"y":0.913},{"cond":"Green","dx":0.002,"y":0.904},{"cond":"Green","dx":0.080,"y":0.903},{"cond":"Green","dx":0.162,"y":0.899},{"cond":"Green","dx":0.187,"y":0.897},{"cond":"Green","dx":-0.100,"y":0.899},{"cond":"Green","dx":-0.075,"y":0.882},{"cond":"Green","dx":0.012,"y":0.893},{"cond":"Green","dx":0.012,"y":0.885},{"cond":"Green","dx":0.005,"y":0.880},{"cond":"Green","dx":0.052,"y":0.889},{"cond":"Green","dx":0.067,"y":0.887},{"cond":"Green","dx":-0.113,"y":0.863},{"cond":"Green","dx":-0.093,"y":0.864},{"cond":"Green","dx":-0.043,"y":0.862},{"cond":"Green","dx":-0.013,"y":0.860},{"cond":"Green","dx":0.000,"y":0.868},{"cond":"Green","dx":0.197,"y":0.861},{"cond":"Green","dx":-0.145,"y":0.840},{"cond":"Green","dx":-0.101,"y":0.846},{"cond":"Green","dx":-0.031,"y":0.842},{"cond":"Green","dx":-0.113,"y":0.831},{"cond":"Green","dx":-0.055,"y":0.830},{"cond":"Green","dx":0.120,"y":0.838},{"cond":"Green","dx":0.177,"y":0.832},{"cond":"Green","dx":0.192,"y":0.831},{"cond":"Green","dx":-0.178,"y":0.808},{"cond":"Green","dx":-0.158,"y":0.797},{"cond":"Green","dx":-0.170,"y":0.786},{"cond":"Green","dx":-0.063,"y":0.814},{"cond":"Green","dx":-0.068,"y":0.795},{"cond":"Green","dx":-0.023,"y":0.809},{"cond":"Green","dx":0.022,"y":0.819},{"cond":"Green","dx":0.042,"y":0.813},{"cond":"Green","dx":0.067,"y":0.815},{"cond":"Green","dx":0.082,"y":0.808},{"cond":"Green","dx":0.109,"y":0.812},{"cond":"Green","dx":0.150,"y":0.810},{"cond":"Green","dx":0.168,"y":0.798},{"cond":"Green","dx":0.117,"y":0.798},{"cond":"Green","dx":0.057,"y":0.798},{"cond":"Green","dx":-0.013,"y":0.798},{"cond":"Green","dx":-0.002,"y":0.783},{"cond":"Green","dx":0.024,"y":0.783},{"cond":"Green","dx":0.052,"y":0.780},{"cond":"Green","dx":-0.148,"y":0.770},{"cond":"Green","dx":-0.153,"y":0.766},{"cond":"Green","dx":-0.176,"y":0.757},{"cond":"Green","dx":-0.136,"y":0.751},{"cond":"Green","dx":-0.160,"y":0.745},{"cond":"Green","dx":-0.170,"y":0.735},{"cond":"Green","dx":-0.108,"y":0.739},{"cond":"Green","dx":-0.088,"y":0.732},{"cond":"Green","dx":-0.052,"y":0.768},{"cond":"Green","dx":-0.026,"y":0.753},{"cond":"Green","dx":0.022,"y":0.765},{"cond":"Green","dx":0.072,"y":0.768},{"cond":"Green","dx":0.120,"y":0.767},{"cond":"Green","dx":0.075,"y":0.749},{"cond":"Green","dx":0.015,"y":0.740},{"cond":"Green","dx":0.044,"y":0.737},{"cond":"Green","dx":0.119,"y":0.736},{"cond":"Green","dx":0.155,"y":0.743},{"cond":"Green","dx":-0.136,"y":0.712},{"cond":"Green","dx":-0.123,"y":0.714},{"cond":"Green","dx":-0.053,"y":0.707},{"cond":"Green","dx":-0.023,"y":0.710},{"cond":"Green","dx":0.007,"y":0.710},{"cond":"Green","dx":0.035,"y":0.712},{"cond":"Green","dx":0.045,"y":0.702},{"cond":"Green","dx":0.020,"y":0.689},{"cond":"Green","dx":0.057,"y":0.691},{"cond":"Green","dx":0.059,"y":0.681},{"cond":"Green","dx":0.097,"y":0.680},{"cond":"Green","dx":0.155,"y":0.691},{"cond":"Green","dx":-0.170,"y":0.681},{"cond":"Green","dx":-0.050,"y":0.658},{"cond":"Green","dx":-0.045,"y":0.665},{"cond":"Green","dx":-0.150,"y":0.651},{"cond":"Green","dx":-0.118,"y":0.653},{"cond":"Green","dx":-0.171,"y":0.639},{"cond":"Green","dx":-0.143,"y":0.641},{"cond":"Green","dx":-0.063,"y":0.643},{"cond":"Green","dx":-0.023,"y":0.638},{"cond":"Green","dx":-0.003,"y":0.632},{"cond":"Green","dx":0.017,"y":0.635},{"cond":"Green","dx":-0.005,"y":0.640},{"cond":"Green","dx":0.110,"y":0.662},{"cond":"Green","dx":0.132,"y":0.666},{"cond":"Green","dx":0.157,"y":0.664},{"cond":"Green","dx":0.167,"y":0.658},{"cond":"Green","dx":0.085,"y":0.631},{"cond":"Green","dx":0.152,"y":0.632},{"cond":"Green","dx":0.197,"y":0.636},{"cond":"Green","dx":-0.185,"y":0.609},{"cond":"Green","dx":-0.123,"y":0.614},{"cond":"Green","dx":-0.105,"y":0.614},{"cond":"Green","dx":-0.043,"y":0.617},{"cond":"Green","dx":-0.018,"y":0.617},{"cond":"Green","dx":0.012,"y":0.613},{"cond":"Green","dx":0.042,"y":0.619},{"cond":"Green","dx":0.062,"y":0.617},{"cond":"Green","dx":0.097,"y":0.606},{"cond":"Green","dx":0.122,"y":0.617},{"cond":"Green","dx":0.137,"y":0.609},{"cond":"Green","dx":0.177,"y":0.606},{"cond":"Green","dx":-0.053,"y":0.600},{"cond":"Green","dx":-0.023,"y":0.605},{"cond":"Green","dx":0.007,"y":0.605},{"cond":"Green","dx":0.044,"y":0.605},{"cond":"Green","dx":0.070,"y":0.600},{"cond":"Green","dx":0.047,"y":0.590},{"cond":"Green","dx":0.147,"y":0.592},{"cond":"Green","dx":0.152,"y":0.590},{"cond":"Green","dx":-0.020,"y":0.588},{"cond":"Green","dx":-0.178,"y":0.586},{"cond":"Green","dx":-0.148,"y":0.581},{"cond":"Green","dx":-0.118,"y":0.558},{"cond":"Green","dx":-0.160,"y":0.549},{"cond":"Green","dx":-0.138,"y":0.549},{"cond":"Green","dx":-0.125,"y":0.539},{"cond":"Green","dx":-0.088,"y":0.542},{"cond":"Green","dx":-0.056,"y":0.552},{"cond":"Green","dx":-0.028,"y":0.552},{"cond":"Green","dx":-0.008,"y":0.543},{"cond":"Green","dx":-0.023,"y":0.530},{"cond":"Green","dx":0.062,"y":0.550},{"cond":"Green","dx":0.062,"y":0.541},{"cond":"Green","dx":0.057,"y":0.530},{"cond":"Green","dx":0.112,"y":0.563},{"cond":"Green","dx":0.114,"y":0.556},{"cond":"Green","dx":0.107,"y":0.537},{"cond":"Green","dx":0.144,"y":0.535},{"cond":"Green","dx":0.174,"y":0.564},{"cond":"Green","dx":0.197,"y":0.556},{"cond":"Green","dx":0.192,"y":0.550},{"cond":"Green","dx":-0.188,"y":0.499},{"cond":"Green","dx":-0.158,"y":0.496},{"cond":"Green","dx":-0.126,"y":0.505},{"cond":"Green","dx":-0.055,"y":0.511},{"cond":"Green","dx":-0.075,"y":0.492},{"cond":"Green","dx":-0.143,"y":0.484},{"cond":"Green","dx":-0.110,"y":0.484},{"cond":"Green","dx":-0.033,"y":0.488},{"cond":"Green","dx":0.002,"y":0.482},{"cond":"Green","dx":0.027,"y":0.482},{"cond":"Green","dx":0.037,"y":0.496},{"cond":"Green","dx":0.062,"y":0.507},{"cond":"Green","dx":0.070,"y":0.501},{"cond":"Green","dx":0.107,"y":0.507},{"cond":"Green","dx":0.120,"y":0.486},{"cond":"Green","dx":0.177,"y":0.481},
{"cond":"Green","dx":-0.178,"y":0.468},{"cond":"Green","dx":-0.168,"y":0.456},{"cond":"Green","dx":-0.160,"y":0.454},{"cond":"Green","dx":-0.198,"y":0.440},{"cond":"Green","dx":-0.068,"y":0.439},{"cond":"Green","dx":-0.053,"y":0.441},{"cond":"Green","dx":-0.043,"y":0.455},{"cond":"Green","dx":-0.018,"y":0.454},{"cond":"Green","dx":0.012,"y":0.445},{"cond":"Green","dx":0.042,"y":0.444},{"cond":"Green","dx":0.020,"y":0.431},{"cond":"Green","dx":0.072,"y":0.437},{"cond":"Green","dx":0.037,"y":0.462},{"cond":"Green","dx":0.082,"y":0.466},{"cond":"Green","dx":0.074,"y":0.462},{"cond":"Green","dx":0.115,"y":0.467},{"cond":"Green","dx":0.120,"y":0.455},{"cond":"Green","dx":0.140,"y":0.439},{"cond":"Green","dx":0.172,"y":0.450},{"cond":"Green","dx":0.170,"y":0.446},{"cond":"Green","dx":-0.178,"y":0.413},{"cond":"Green","dx":-0.168,"y":0.407},{"cond":"Green","dx":-0.138,"y":0.407},{"cond":"Green","dx":-0.098,"y":0.403},{"cond":"Green","dx":-0.083,"y":0.412},{"cond":"Green","dx":-0.013,"y":0.398},{"cond":"Green","dx":0.005,"y":0.393},{"cond":"Green","dx":-0.033,"y":0.383},{"cond":"Green","dx":0.052,"y":0.412},{"cond":"Green","dx":0.072,"y":0.411},{"cond":"Green","dx":0.089,"y":0.409},{"cond":"Green","dx":0.164,"y":0.416},{"cond":"Green","dx":0.142,"y":0.402},{"cond":"Green","dx":0.192,"y":0.386},{"cond":"Green","dx":-0.180,"y":0.385},{"cond":"Green","dx":-0.128,"y":0.369},{"cond":"Green","dx":-0.068,"y":0.366},{"cond":"Green","dx":-0.173,"y":0.356},{"cond":"Green","dx":-0.140,"y":0.353},{"cond":"Green","dx":-0.050,"y":0.350},{"cond":"Green","dx":-0.058,"y":0.345},{"cond":"Green","dx":0.035,"y":0.360},{"cond":"Green","dx":0.197,"y":0.362},{"cond":"Green","dx":0.182,"y":0.343},{"cond":"Green","dx":-0.180,"y":0.332},{"cond":"Green","dx":-0.043,"y":0.318},{"cond":"Green","dx":-0.011,"y":0.318},{"cond":"Green","dx":-0.060,"y":0.306},{"cond":"Green","dx":-0.028,"y":0.305},{"cond":"Green","dx":0.050,"y":0.312},{"cond":"Green","dx":0.092,"y":0.315},{"cond":"Green","dx":0.119,"y":0.318},{"cond":"Green","dx":0.017,"y":0.291},{"cond":"Green","dx":0.044,"y":0.294},
{"cond":"Green","dx":-0.146,"y":0.193},{"cond":"Green","dx":-0.159,"y":0.183},{"cond":"Green","dx":-0.094,"y":0.236},{"cond":"Green","dx":-0.071,"y":0.222},{"cond":"Green","dx":-0.019,"y":0.244},{"cond":"Green","dx":0.006,"y":0.260},{"cond":"Green","dx":0.071,"y":0.271},{"cond":"Green","dx":0.091,"y":0.253},{"cond":"Green","dx":0.094,"y":0.238},{"cond":"Green","dx":-0.162,"y":0.108},{"cond":"Green","dx":-0.110,"y":0.174},{"cond":"Green","dx":-0.062,"y":0.167},{"cond":"Green","dx":-0.062,"y":0.140},{"cond":"Green","dx":0.010,"y":0.165},{"cond":"Green","dx":0.065,"y":0.171},{"cond":"Green","dx":0.107,"y":0.170},{"cond":"Green","dx":0.104,"y":0.150},{"cond":"Green","dx":-0.071,"y":0.082},{"cond":"Green","dx":0.000,"y":0.138},{"cond":"Green","dx":0.016,"y":0.134},{"cond":"Green","dx":0.088,"y":0.107},{"cond":"Green","dx":-0.159,"y":0.012},{"cond":"Green","dx":-0.104,"y":0.015},{"cond":"Green","dx":-0.081,"y":0.000},{"cond":"Green","dx":0.058,"y":0.001},{"cond":"Green","dx":0.094,"y":0.012},{"cond":"Green","dx":0.107,"y":0.005},{"cond":"Green","dx":0.042,"y":-0.011},{"cond":"Green","dx":-0.097,"y":-0.017},{"cond":"Green","dx":0.156,"y":0.069},{"cond":"Green","dx":0.162,"y":0.054},{"cond":"Green","dx":-0.130,"y":0.005},{"cond":"Green","dx":0.036,"y":-0.005},
{"cond":"ROG","dx":-0.118,"y":1.008},{"cond":"ROG","dx":-0.090,"y":1.017},{"cond":"ROG","dx":-0.048,"y":1.012},{"cond":"ROG","dx":-0.045,"y":1.003},{"cond":"ROG","dx":-0.016,"y":1.019},{"cond":"ROG","dx":0.014,"y":1.016},{"cond":"ROG","dx":0.027,"y":1.011},{"cond":"ROG","dx":0.047,"y":1.004},{"cond":"ROG","dx":0.092,"y":1.016},{"cond":"ROG","dx":0.105,"y":1.006},{"cond":"ROG","dx":0.159,"y":1.007},{"cond":"ROG","dx":0.190,"y":1.005},{"cond":"ROG","dx":0.199,"y":1.019},{"cond":"ROG","dx":-0.195,"y":0.992},{"cond":"ROG","dx":-0.108,"y":0.993},{"cond":"ROG","dx":-0.090,"y":0.984},{"cond":"ROG","dx":-0.076,"y":0.995},{"cond":"ROG","dx":-0.021,"y":0.986},{"cond":"ROG","dx":0.142,"y":0.982},{"cond":"ROG","dx":0.152,"y":0.989},{"cond":"ROG","dx":0.174,"y":0.985},{"cond":"ROG","dx":-0.153,"y":0.957},{"cond":"ROG","dx":-0.123,"y":0.955},{"cond":"ROG","dx":-0.113,"y":0.966},{"cond":"ROG","dx":-0.030,"y":0.943},{"cond":"ROG","dx":-0.018,"y":0.951},{"cond":"ROG","dx":0.004,"y":0.950},{"cond":"ROG","dx":0.054,"y":0.958},{"cond":"ROG","dx":0.070,"y":0.961},{"cond":"ROG","dx":0.099,"y":0.936},{"cond":"ROG","dx":0.115,"y":0.919},{"cond":"ROG","dx":0.145,"y":0.913},{"cond":"ROG","dx":0.188,"y":0.967},{"cond":"ROG","dx":0.188,"y":0.956},{"cond":"ROG","dx":0.186,"y":0.902},{"cond":"ROG","dx":-0.106,"y":0.902},{"cond":"ROG","dx":-0.076,"y":0.901},{"cond":"ROG","dx":-0.068,"y":0.895},{"cond":"ROG","dx":-0.045,"y":0.897},{"cond":"ROG","dx":-0.036,"y":0.890},{"cond":"ROG","dx":-0.195,"y":0.885},{"cond":"ROG","dx":-0.188,"y":0.868},{"cond":"ROG","dx":0.085,"y":0.896},{"cond":"ROG","dx":0.110,"y":0.889},{"cond":"ROG","dx":0.072,"y":0.880},{"cond":"ROG","dx":0.062,"y":0.864},{"cond":"ROG","dx":0.132,"y":0.858},{"cond":"ROG","dx":0.037,"y":0.854},{"cond":"ROG","dx":0.047,"y":0.834},{"cond":"ROG","dx":-0.166,"y":0.832},{"cond":"ROG","dx":-0.153,"y":0.840},{"cond":"ROG","dx":-0.098,"y":0.848},{"cond":"ROG","dx":-0.090,"y":0.840},{"cond":"ROG","dx":-0.068,"y":0.854},{"cond":"ROG","dx":-0.053,"y":0.839},{"cond":"ROG","dx":-0.036,"y":0.834},{"cond":"ROG","dx":-0.023,"y":0.860},{"cond":"ROG","dx":0.109,"y":0.837},{"cond":"ROG","dx":0.118,"y":0.837},{"cond":"ROG","dx":-0.190,"y":0.797},{"cond":"ROG","dx":-0.160,"y":0.796},{"cond":"ROG","dx":-0.101,"y":0.806},{"cond":"ROG","dx":-0.102,"y":0.790},{"cond":"ROG","dx":-0.045,"y":0.809},{"cond":"ROG","dx":-0.021,"y":0.814},{"cond":"ROG","dx":0.027,"y":0.816},{"cond":"ROG","dx":0.110,"y":0.814},{"cond":"ROG","dx":0.124,"y":0.814},{"cond":"ROG","dx":0.135,"y":0.818},{"cond":"ROG","dx":0.166,"y":0.815},{"cond":"ROG","dx":0.109,"y":0.787},{"cond":"ROG","dx":0.138,"y":0.785},{"cond":"ROG","dx":0.175,"y":0.790},{"cond":"ROG","dx":0.184,"y":0.782},{"cond":"ROG","dx":-0.037,"y":0.786},{"cond":"ROG","dx":-0.038,"y":0.767},{"cond":"ROG","dx":-0.078,"y":0.760},{"cond":"ROG","dx":-0.136,"y":0.751},{"cond":"ROG","dx":-0.122,"y":0.743},{"cond":"ROG","dx":-0.116,"y":0.732},{"cond":"ROG","dx":-0.183,"y":0.730},{"cond":"ROG","dx":-0.156,"y":0.730},{"cond":"ROG","dx":-0.052,"y":0.743},{"cond":"ROG","dx":0.056,"y":0.759},{"cond":"ROG","dx":0.130,"y":0.735},{"cond":"ROG","dx":0.161,"y":0.741},{"cond":"ROG","dx":-0.105,"y":0.717},{"cond":"ROG","dx":-0.103,"y":0.713},{"cond":"ROG","dx":-0.061,"y":0.718},{"cond":"ROG","dx":-0.025,"y":0.714},{"cond":"ROG","dx":0.002,"y":0.719},{"cond":"ROG","dx":0.012,"y":0.717},{"cond":"ROG","dx":0.044,"y":0.717},{"cond":"ROG","dx":0.054,"y":0.716},{"cond":"ROG","dx":0.020,"y":0.706},{"cond":"ROG","dx":0.040,"y":0.700},{"cond":"ROG","dx":0.072,"y":0.707},{"cond":"ROG","dx":0.095,"y":0.701},{"cond":"ROG","dx":-0.150,"y":0.708},{"cond":"ROG","dx":0.169,"y":0.714},{"cond":"ROG","dx":0.192,"y":0.705},{"cond":"ROG","dx":0.195,"y":0.695},{"cond":"ROG","dx":0.188,"y":0.684},{"cond":"ROG","dx":-0.123,"y":0.689},{"cond":"ROG","dx":-0.106,"y":0.692},{"cond":"ROG","dx":-0.098,"y":0.683},{"cond":"ROG","dx":-0.155,"y":0.663},{"cond":"ROG","dx":-0.106,"y":0.665},{"cond":"ROG","dx":-0.086,"y":0.667},{"cond":"ROG","dx":-0.066,"y":0.668},{"cond":"ROG","dx":-0.046,"y":0.658},{"cond":"ROG","dx":0.070,"y":0.655},{"cond":"ROG","dx":0.115,"y":0.652},{"cond":"ROG","dx":0.129,"y":0.662},{"cond":"ROG","dx":0.152,"y":0.668},{"cond":"ROG","dx":0.188,"y":0.630},{"cond":"ROG","dx":0.124,"y":0.635},{"cond":"ROG","dx":0.070,"y":0.633},{"cond":"ROG","dx":0.038,"y":0.632},{"cond":"ROG","dx":0.032,"y":0.644},{"cond":"ROG","dx":-0.011,"y":0.643},{"cond":"ROG","dx":-0.028,"y":0.638},{"cond":"ROG","dx":-0.033,"y":0.631},{"cond":"ROG","dx":-0.053,"y":0.640},{"cond":"ROG","dx":-0.145,"y":0.639},{"cond":"ROG","dx":-0.113,"y":0.636},{"cond":"ROG","dx":-0.132,"y":0.619},{"cond":"ROG","dx":-0.168,"y":0.607},{"cond":"ROG","dx":-0.164,"y":0.602},{"cond":"ROG","dx":-0.136,"y":0.610},{"cond":"ROG","dx":-0.126,"y":0.601},{"cond":"ROG","dx":-0.098,"y":0.605},{"cond":"ROG","dx":-0.100,"y":0.595},{"cond":"ROG","dx":-0.060,"y":0.618},{"cond":"ROG","dx":-0.043,"y":0.609},{"cond":"ROG","dx":0.019,"y":0.613},{"cond":"ROG","dx":0.030,"y":0.605},{"cond":"ROG","dx":0.105,"y":0.602},{"cond":"ROG","dx":0.129,"y":0.597},{"cond":"ROG","dx":0.135,"y":0.608},{"cond":"ROG","dx":0.162,"y":0.619},{"cond":"ROG","dx":0.160,"y":0.607},{"cond":"ROG","dx":0.182,"y":0.615},{"cond":"ROG","dx":-0.161,"y":0.591},{"cond":"ROG","dx":-0.138,"y":0.586},{"cond":"ROG","dx":-0.136,"y":0.580},{"cond":"ROG","dx":-0.080,"y":0.583},{"cond":"ROG","dx":-0.053,"y":0.586},{"cond":"ROG","dx":-0.025,"y":0.583},{"cond":"ROG","dx":0.010,"y":0.597},{"cond":"ROG","dx":0.034,"y":0.592},{"cond":"ROG","dx":0.034,"y":0.586},{"cond":"ROG","dx":0.060,"y":0.591},{"cond":"ROG","dx":0.060,"y":0.580},{"cond":"ROG","dx":-0.178,"y":0.566},{"cond":"ROG","dx":-0.122,"y":0.559},{"cond":"ROG","dx":0.065,"y":0.563},{"cond":"ROG","dx":0.049,"y":0.556},{"cond":"ROG","dx":-0.174,"y":0.535},{"cond":"ROG","dx":-0.158,"y":0.536},{"cond":"ROG","dx":-0.140,"y":0.539},{"cond":"ROG","dx":-0.038,"y":0.543},{"cond":"ROG","dx":0.030,"y":0.542},{"cond":"ROG","dx":0.080,"y":0.547},{"cond":"ROG","dx":0.119,"y":0.547},{"cond":"ROG","dx":0.162,"y":0.554},{"cond":"ROG","dx":0.192,"y":0.552},{"cond":"ROG","dx":0.072,"y":0.534},{"cond":"ROG","dx":0.062,"y":0.532},{"cond":"ROG","dx":-0.190,"y":0.511},{"cond":"ROG","dx":-0.166,"y":0.513},{"cond":"ROG","dx":-0.143,"y":0.511},{"cond":"ROG","dx":-0.126,"y":0.511},{"cond":"ROG","dx":-0.101,"y":0.511},{"cond":"ROG","dx":-0.090,"y":0.501},{"cond":"ROG","dx":-0.128,"y":0.496},{"cond":"ROG","dx":-0.110,"y":0.493},{"cond":"ROG","dx":-0.028,"y":0.515},{"cond":"ROG","dx":0.000,"y":0.510},{"cond":"ROG","dx":-0.010,"y":0.496},{"cond":"ROG","dx":0.089,"y":0.509},{"cond":"ROG","dx":0.102,"y":0.496},{"cond":"ROG","dx":0.100,"y":0.485},{"cond":"ROG","dx":0.145,"y":0.501},{"cond":"ROG","dx":0.164,"y":0.505},
{"cond":"ROG","dx":-0.195,"y":0.466},{"cond":"ROG","dx":-0.153,"y":0.472},{"cond":"ROG","dx":-0.114,"y":0.459},{"cond":"ROG","dx":-0.075,"y":0.447},{"cond":"ROG","dx":0.097,"y":0.472},{"cond":"ROG","dx":0.156,"y":0.466},{"cond":"ROG","dx":0.195,"y":0.453},{"cond":"ROG","dx":-0.205,"y":0.435},{"cond":"ROG","dx":-0.162,"y":0.416},{"cond":"ROG","dx":-0.097,"y":0.404},{"cond":"ROG","dx":-0.032,"y":0.410},{"cond":"ROG","dx":0.049,"y":0.416},{"cond":"ROG","dx":0.097,"y":0.398},{"cond":"ROG","dx":0.162,"y":0.423},{"cond":"ROG","dx":0.201,"y":0.445},{"cond":"ROG","dx":-0.195,"y":0.392},{"cond":"ROG","dx":-0.136,"y":0.373},{"cond":"ROG","dx":-0.104,"y":0.361},{"cond":"ROG","dx":-0.065,"y":0.349},{"cond":"ROG","dx":0.000,"y":0.373},{"cond":"ROG","dx":0.065,"y":0.380},{"cond":"ROG","dx":0.114,"y":0.361},{"cond":"ROG","dx":0.156,"y":0.380},{"cond":"ROG","dx":0.195,"y":0.392},{"cond":"ROG","dx":-0.185,"y":0.349},{"cond":"ROG","dx":-0.146,"y":0.324},{"cond":"ROG","dx":-0.081,"y":0.330},{"cond":"ROG","dx":-0.039,"y":0.318},{"cond":"ROG","dx":0.026,"y":0.337},{"cond":"ROG","dx":0.097,"y":0.324},{"cond":"ROG","dx":0.169,"y":0.337},{"cond":"ROG","dx":0.195,"y":0.349},{"cond":"ROG","dx":-0.195,"y":0.300},{"cond":"ROG","dx":-0.162,"y":0.285},{"cond":"ROG","dx":-0.104,"y":0.269},{"cond":"ROG","dx":-0.032,"y":0.300},{"cond":"ROG","dx":0.006,"y":0.287},{"cond":"ROG","dx":0.058,"y":0.300},{"cond":"ROG","dx":0.114,"y":0.281},{"cond":"ROG","dx":0.179,"y":0.290},{"cond":"ROG","dx":-0.188,"y":0.275},{"cond":"ROG","dx":-0.162,"y":0.238},{"cond":"ROG","dx":-0.123,"y":0.226},{"cond":"ROG","dx":-0.097,"y":0.204},{"cond":"ROG","dx":-0.049,"y":0.195},{"cond":"ROG","dx":0.000,"y":0.201},{"cond":"ROG","dx":0.039,"y":0.208},{"cond":"ROG","dx":0.088,"y":0.226},{"cond":"ROG","dx":0.130,"y":0.238},{"cond":"ROG","dx":0.182,"y":0.201},{"cond":"ROG","dx":0.195,"y":0.226},{"cond":"ROG","dx":-0.162,"y":0.177},{"cond":"ROG","dx":-0.114,"y":0.152},{"cond":"ROG","dx":-0.065,"y":0.165},{"cond":"ROG","dx":0.000,"y":0.171},{"cond":"ROG","dx":0.049,"y":0.140},{"cond":"ROG","dx":0.097,"y":0.165},{"cond":"ROG","dx":0.146,"y":0.177},{"cond":"ROG","dx":0.188,"y":0.152},{"cond":"ROG","dx":-0.195,"y":0.115},{"cond":"ROG","dx":-0.162,"y":0.103},{"cond":"ROG","dx":-0.114,"y":0.085},{"cond":"ROG","dx":-0.058,"y":0.103},{"cond":"ROG","dx":0.000,"y":0.106},{"cond":"ROG","dx":0.058,"y":0.091},{"cond":"ROG","dx":0.114,"y":0.097},{"cond":"ROG","dx":0.130,"y":0.085},{"cond":"ROG","dx":0.169,"y":0.109},{"cond":"ROG","dx":-0.179,"y":0.048},{"cond":"ROG","dx":-0.130,"y":0.029},{"cond":"ROG","dx":-0.049,"y":0.017},{"cond":"ROG","dx":0.000,"y":0.042},{"cond":"ROG","dx":0.049,"y":0.015},{"cond":"ROG","dx":0.114,"y":0.029},{"cond":"ROG","dx":0.162,"y":0.054},{"cond":"ROG","dx":0.179,"y":0.005},{"cond":"ROG","dx":-0.169,"y":-0.001},{"cond":"ROG","dx":-0.114,"y":-0.007},{"cond":"ROG","dx":-0.065,"y":-0.014},{"cond":"ROG","dx":-0.006,"y":-0.011},{"cond":"ROG","dx":0.071,"y":-0.001},{"cond":"ROG","dx":0.114,"y":-0.011},{"cond":"ROG","dx":0.169,"y":-0.001},{"cond":"ROG","dx":-0.179,"y":0.017}
]
},
"layer":[
{"data":{"name":"stamp"},
 "mark":{"type":"text","angle":-47,"fontSize":62,"font":"Liberation Sans","color":"#e0e0e0","align":"center","baseline":"middle"},
 "encoding":{
  "x":{"field":"x","type":"quantitative","scale":{"domain":[0.4,4.6],"nice":false,"zero":false}},
  "y":{"field":"y","type":"quantitative","scale":{"domain":[-0.0684,1.0713],"nice":false,"zero":false}},
  "text":{"field":"label"}}},
{"data":{"name":"violin"},
 "transform":[{"calculate":"indexof(['Control','Red','Green','ROG'], datum.cond) + 1","as":"idx"},{"calculate":"datum.idx - datum.w","as":"lo"},{"calculate":"datum.idx + datum.w","as":"hi"}],
 "mark":{"type":"area","orient":"horizontal","interpolate":"monotone","fill":"white","fillOpacity":0,"stroke":"#333333","strokeWidth":2},
 "encoding":{
  "y":{"field":"y","type":"quantitative","scale":{"domain":[-0.0684,1.0713],"nice":false,"zero":false},
       "axis":{"title":"Proportion Meat Choice","values":[0,0.25,0.5,0.75,1],"format":".2f","grid":false,"domainColor":"black","domainWidth":2,"tickColor":"#333333","tickWidth":2,"tickSize":7,"labelFontSize":23,"labelColor":"#4d4d4d","labelPadding":6,"labelFont":"Liberation Sans","titleFont":"Liberation Sans","titleFontSize":28,"titleFontWeight":"normal","titleColor":"black","titlePadding":10}},
  "x":{"field":"lo","type":"quantitative","scale":{"domain":[0.4,4.6],"nice":false,"zero":false},
       "axis":{"title":"Condition","values":[1,2,3,4],"labelExpr":"['Control','Red','Green','ROG'][datum.value - 1]","grid":false,"domainColor":"black","domainWidth":2,"tickColor":"#333333","tickWidth":2,"tickSize":7,"labelFontSize":23,"labelColor":"#4d4d4d","labelPadding":8,"labelFont":"Liberation Sans","titleFont":"Liberation Sans","titleFontSize":28,"titleFontWeight":"normal","titleColor":"black","titlePadding":4}},
  "x2":{"field":"hi"},
  "detail":{"field":"cond"}}},
{"data":{"name":"box"},
 "transform":[{"calculate":"indexof(['Control','Red','Green','ROG'], datum.cond) + 1","as":"idx"},{"calculate":"datum.idx - 0.05","as":"bx1"},{"calculate":"datum.idx + 0.05","as":"bx2"}],
 "layer":[
  {"mark":{"type":"rule","color":"black","strokeWidth":3.5},
   "encoding":{"x":{"field":"idx","type":"quantitative"},"y":{"field":"lower","type":"quantitative"},"y2":{"field":"upper"}}},
  {"mark":{"type":"rule","color":"black","strokeWidth":3.5},
   "encoding":{"x":{"field":"bx1","type":"quantitative"},"x2":{"field":"bx2"},"y":{"field":"upper","type":"quantitative"}}},
  {"mark":{"type":"rule","color":"black","strokeWidth":3.5},
   "encoding":{"x":{"field":"bx1","type":"quantitative"},"x2":{"field":"bx2"},"y":{"field":"lower","type":"quantitative"}}},
  {"mark":{"type":"rect","fillOpacity":0.5,"stroke":"black","strokeWidth":2},
   "encoding":{"x":{"field":"bx1","type":"quantitative"},"x2":{"field":"bx2"},"y":{"field":"q1","type":"quantitative"},"y2":{"field":"q3"},
    "color":{"field":"cond","type":"nominal","scale":{"domain":["Control","Red","Green","ROG"],"range":["#2A88D3","#FF6B60","#8ACB00","#FFA51F"]},
     "legend":{"title":"Condition","orient":"none","legendX":1446,"legendY":393,"padding":0,"symbolType":"M-1,-0.62H1V0.62H-1Z M-1,0H1","symbolSize":1190,"symbolStrokeColor":"black","symbolStrokeWidth":2.5,"symbolOffset":4,"labelOffset":18,"labelFontSize":23,"labelColor":"black","labelFont":"Liberation Sans","titleFont":"Liberation Sans","titleFontSize":28,"titleFontWeight":"normal","titleColor":"black","titlePadding":17,"rowPadding":12,
      "encode":{"symbols":{"update":{"fillOpacity":{"value":0.5},"stroke":{"value":"black"},"strokeWidth":{"value":2.5}}}}}}}},
  {"mark":{"type":"rule","color":"black","strokeWidth":5.5},
   "encoding":{"x":{"field":"bx1","type":"quantitative"},"x2":{"field":"bx2"},"y":{"field":"median","type":"quantitative"}}}
 ]},
{"data":{"name":"points"},
 "transform":[{"calculate":"indexof(['Control','Red','Green','ROG'], datum.cond) + 1","as":"idx"},{"calculate":"datum.idx + datum.dx","as":"px"}],
 "mark":{"type":"circle","size":90,"opacity":1},
 "encoding":{"x":{"field":"px","type":"quantitative"},"y":{"field":"y","type":"quantitative"},
  "fill":{"field":"cond","type":"nominal","sort":["Control","Red","Green","ROG"],"scale":{"range":["#2A88D3","#FF6B60","#8ACB00","#FFA51F"]},
   "legend":{"title":"Condition","orient":"none","legendX":1446,"legendY":393,"padding":0,"symbolType":"M-1,-0.62M1,0.62M-0.29,0A0.29,0.29,0,1,0,0.29,0A0.29,0.29,0,1,0,-0.29,0Z","symbolSize":1190,"symbolStrokeColor":"transparent","symbolStrokeWidth":2.5,"symbolOffset":4,"labelOffset":18,"labelFontSize":23,"labelOpacity":0,"labelFont":"Liberation Sans","titleFont":"Liberation Sans","titleFontSize":28,"titleFontWeight":"normal","titleOpacity":0,"titlePadding":17,"rowPadding":12,
    "encode":{"symbols":{"update":{"fillOpacity":{"value":1},"stroke":{"value":"transparent"}}}}}}}},
{"data":{"name":"banner"},
 "layer":[
  {"mark":{"type":"rect","fill":"#d0d1d3"},
   "encoding":{"x":{"field":"x1","type":"quantitative"},"x2":{"field":"x2"},"y":{"field":"y1","type":"quantitative"},"y2":{"field":"y2"}}},
  {"mark":{"type":"text","font":"Liberation Serif","fontSize":18,"color":"white","align":"center","baseline":"middle"},
   "encoding":{"x":{"field":"xm","type":"quantitative"},"y":{"field":"ym","type":"quantitative"},"text":{"field":"label"}}}
 ]}
]
}
